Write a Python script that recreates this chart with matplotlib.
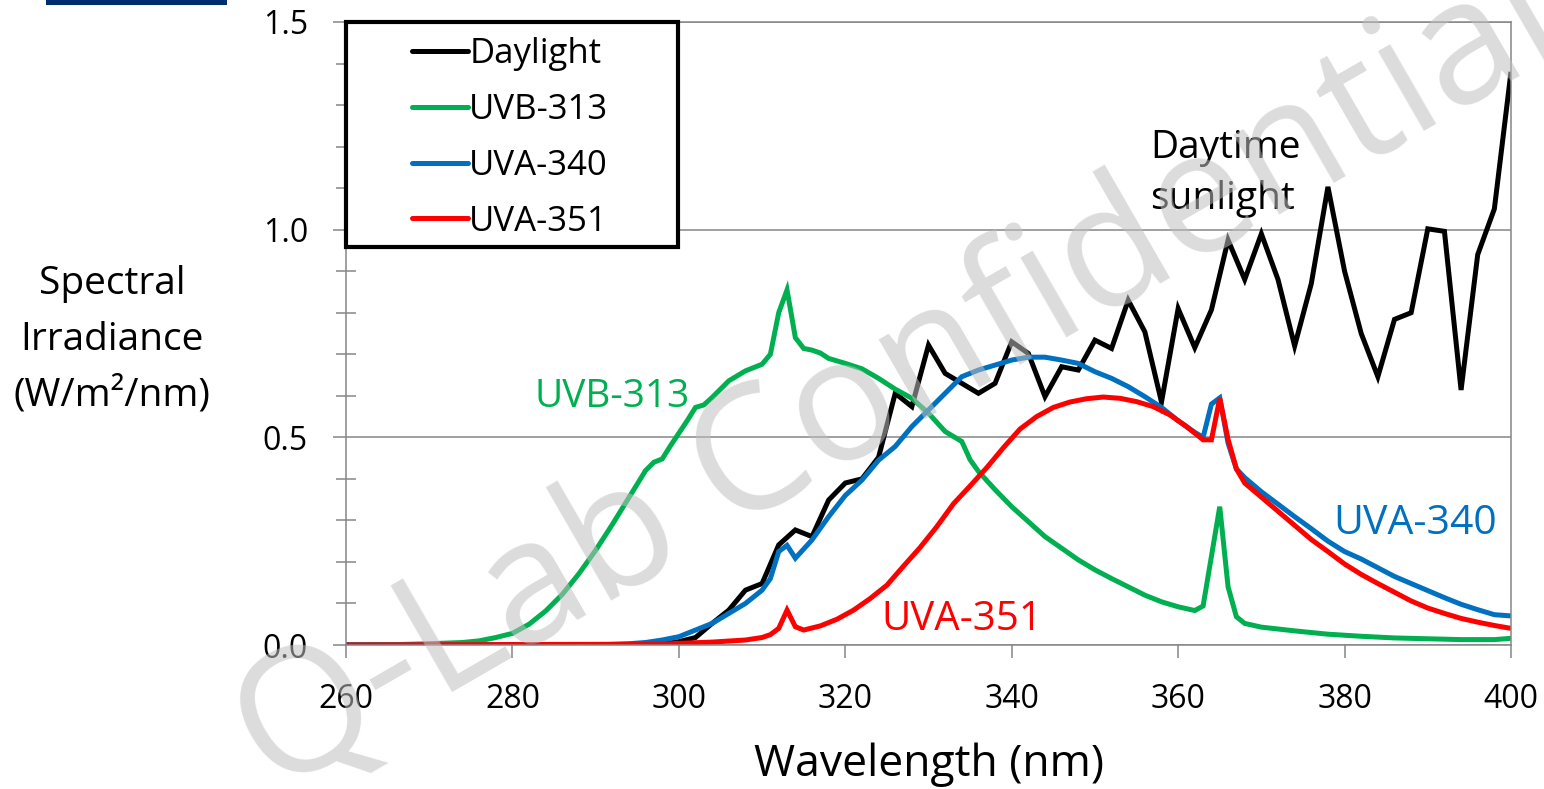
import matplotlib
matplotlib.use("Agg")
import matplotlib.pyplot as plt
from matplotlib.patches import Rectangle

plt.rcParams['font.family'] = ['Open Sans', 'DejaVu Sans']

# Daylight (2 nm steps)
day_wl = [260, 296, 298, 300, 302, 304, 306, 308, 310, 312, 314, 316, 318, 320, 322, 324,
          326, 328, 330, 332, 334, 336, 338, 340, 342, 344, 346, 348, 350, 352, 354, 356,
          358, 360, 362, 364, 366, 368, 370, 372, 374, 376, 378, 380, 382, 384, 386, 388,
          390, 392, 394, 396, 398, 400]
day_val = [0.0, 0.0, 0.002, 0.008, 0.018, 0.052, 0.084, 0.132, 0.148, 0.241, 0.277, 0.261,
           0.349, 0.39, 0.40, 0.452, 0.606, 0.574, 0.722, 0.654, 0.63, 0.606, 0.63, 0.73,
           0.702, 0.598, 0.67, 0.662, 0.734, 0.714, 0.83, 0.754, 0.585, 0.81, 0.716, 0.807,
           0.975, 0.88, 0.99, 0.88, 0.72, 0.87, 1.103, 0.90, 0.75, 0.646, 0.784, 0.80,
           1.002, 0.996, 0.614, 0.94, 1.05, 1.38]

# UVB-313 lamp
uvb_wl = [260, 266, 270, 274, 276, 278, 280, 282, 284, 286, 288, 290, 292, 294, 296, 297,
          298, 299, 300, 301, 302, 303, 304, 306, 308, 310, 311, 312, 313, 314, 315, 316,
          317, 318, 320, 322, 324, 326, 328, 330, 332, 334, 335, 336, 338, 340, 342, 344,
          346, 348, 350, 352, 354, 356, 358, 360, 362, 363, 365, 366, 367, 368, 370, 374,
          378, 382, 386, 390, 394, 398, 400]
uvb_val = [0.0, 0.001, 0.003, 0.006, 0.01, 0.018, 0.028, 0.05, 0.082, 0.122, 0.172, 0.228,
           0.29, 0.355, 0.42, 0.44, 0.448, 0.48, 0.51, 0.54, 0.572, 0.578, 0.596, 0.636,
           0.66, 0.676, 0.70, 0.80, 0.855, 0.74, 0.714, 0.71, 0.703, 0.69, 0.678, 0.665,
           0.642, 0.616, 0.594, 0.558, 0.514, 0.49, 0.446, 0.418, 0.374, 0.333, 0.297, 0.261,
           0.233, 0.205, 0.181, 0.16, 0.14, 0.12, 0.104, 0.092, 0.083, 0.094, 0.333, 0.14,
           0.068, 0.052, 0.043, 0.034, 0.026, 0.021, 0.017, 0.015, 0.013, 0.013, 0.016]

# UVA-340 lamp
uva340_wl = [260, 290, 294, 296, 298, 300, 302, 304, 306, 308, 310, 311, 312, 313, 314, 316,
             318, 320, 322, 324, 326, 328, 330, 332, 334, 336, 338, 340, 342, 344, 346, 348,
             350, 352, 354, 356, 358, 360, 362, 363, 364, 365, 366, 367, 368, 370, 372, 374,
             376, 378, 380, 382, 384, 386, 388, 390, 392, 394, 396, 398, 400]
uva340_val = [0.0, 0.0, 0.003, 0.006, 0.012, 0.02, 0.036, 0.052, 0.076, 0.1, 0.132, 0.16,
              0.225, 0.24, 0.209, 0.253, 0.309, 0.36, 0.397, 0.445, 0.478, 0.526, 0.566,
              0.606, 0.646, 0.662, 0.674, 0.686, 0.693, 0.693, 0.686, 0.678, 0.658, 0.642,
              0.622, 0.598, 0.572, 0.54, 0.512, 0.50, 0.58, 0.595, 0.486, 0.424, 0.403,
              0.369, 0.339, 0.309, 0.28, 0.25, 0.225, 0.207, 0.186, 0.165, 0.148, 0.131,
              0.114, 0.098, 0.085, 0.073, 0.07]

# UVA-351 lamp
uva351_wl = [260, 298, 300, 304, 308, 310, 311, 312, 313, 314, 315, 317, 319, 321, 323, 325,
             327, 329, 331, 333, 335, 337, 339, 341, 343, 345, 347, 349, 351, 353, 355, 357,
             359, 361, 363, 364, 365, 366, 367, 368, 370, 372, 374, 376, 378, 380, 382, 384,
             386, 388, 390, 392, 394, 396, 398, 400]
uva351_val = [0.0, 0.002, 0.004, 0.007, 0.012, 0.018, 0.025, 0.04, 0.084, 0.044, 0.036, 0.046,
              0.062, 0.084, 0.112, 0.144, 0.19, 0.235, 0.285, 0.34, 0.383, 0.427, 0.475,
              0.52, 0.55, 0.572, 0.585, 0.593, 0.597, 0.594, 0.586, 0.574, 0.554, 0.526,
              0.494, 0.494, 0.594, 0.495, 0.424, 0.39, 0.356, 0.322, 0.288, 0.254, 0.225,
              0.195, 0.17, 0.148, 0.127, 0.106, 0.089, 0.076, 0.064, 0.055, 0.047, 0.04]

series_names = ["Daylight", "UVB-313", "UVA-340", "UVA-351"]
series_colors = ["#000000", "#00B050", "#0070C0", "#FF0000"]

x_ticks = [260, 280, 300, 320, 340, 360, 380, 400]
y_ticks = [0.0, 0.5, 1.0, 1.5]

grey = "#868686"

fig = plt.figure(figsize=(15.44, 7.89), dpi=100)
ax = fig.add_axes([346 / 1544, 1 - 645 / 789, 1165 / 1544, 623 / 789])

data = [(day_wl, day_val), (uvb_wl, uvb_val), (uva340_wl, uva340_val), (uva351_wl, uva351_val)]
lines = []
for (wl, val), name, col in zip(data, series_names, series_colors):
    ln, = ax.plot(wl, val, color=col, lw=3.6, label=name, solid_joinstyle='miter',
                  solid_capstyle='butt')
    lines.append(ln)

ax.set_xlim(260, 400)
ax.set_ylim(0, 1.5)
ax.set_xticks(x_ticks)
ax.set_yticks(y_ticks)
ax.set_yticks([0.1, 0.2, 0.3, 0.4, 0.6, 0.7, 0.8, 0.9, 1.1, 1.2, 1.3, 1.4], minor=True)
ax.set_yticklabels([f"{v:.1f}" for v in y_ticks])
ax.tick_params(axis='y', which='major', direction='out', length=9.4, width=1.1,
               color=grey, labelsize=23, pad=18)
ax.tick_params(axis='y', which='minor', direction='inout', length=14.4, width=1.1, color=grey)
ax.tick_params(axis='x', which='major', direction='out', length=9, width=1.1,
               color=grey, labelsize=23, pad=18.5)
ax.grid(axis='y', which='major', color=grey, lw=1.1)
ax.set_axisbelow(True)
for sp in ax.spines.values():
    sp.set_color(grey)
    sp.set_linewidth(1.1)

ax.set_xlabel("Wavelength (nm)", fontsize=32, labelpad=19)
fig.text(112 / 1544, 1 - 340 / 789, "Spectral\nIrradiance\n(W/m²/nm)", fontsize=28,
         ha='center', va='center', multialignment='center', linespacing=1.6)

# in-plot labels
ax.text(292.0, 0.597, "UVB-313", color="#00B050", fontsize=28, ha='center', va='center')
ax.text(334.0, 0.06, "UVA-351", color="#FF0000", fontsize=29, ha='center', va='center')
ax.text(388.5, 0.291, "UVA-340", color="#0070C0", fontsize=29.5, ha='center', va='center')
ax.text(356.6, 1.135, "Daytime\nsunlight", color="black", fontsize=28, ha='left',
        va='center', linespacing=1.46)

# legend: white box with thick border, entries on top
ax.add_patch(Rectangle((0, 1 - 225 / 623), 332 / 1165, 225 / 623, transform=ax.transAxes,
                       facecolor='white', edgecolor='black', lw=3, zorder=5, clip_on=False))
leg = ax.legend(handles=lines, loc='upper left', bbox_to_anchor=(66 / 1165, 0.976),
                frameon=False, fontsize=25, borderpad=0, borderaxespad=0,
                handlelength=1.6, handletextpad=0.05, labelspacing=0.63)
leg.set_zorder(6)
for h in leg.legend_handles:
    h.set_solid_capstyle('round')
    h.set_linewidth(3.6)

# navy bar at the top left
fig.patches.append(Rectangle((46 / 1544, 1 - 5 / 789), 181 / 1544, 5 / 789,
                             transform=fig.transFigure, facecolor='#002D6E',
                             edgecolor='none'))

# watermark
fig.text(900 / 1544, 1 - 382 / 789, "Q-Lab Confidential", fontsize=124, color='#BFBFBF',
         alpha=0.55, rotation=30, ha='center', va='center', rotation_mode='anchor',
         zorder=10)

fig.savefig("out.png", dpi=100)
